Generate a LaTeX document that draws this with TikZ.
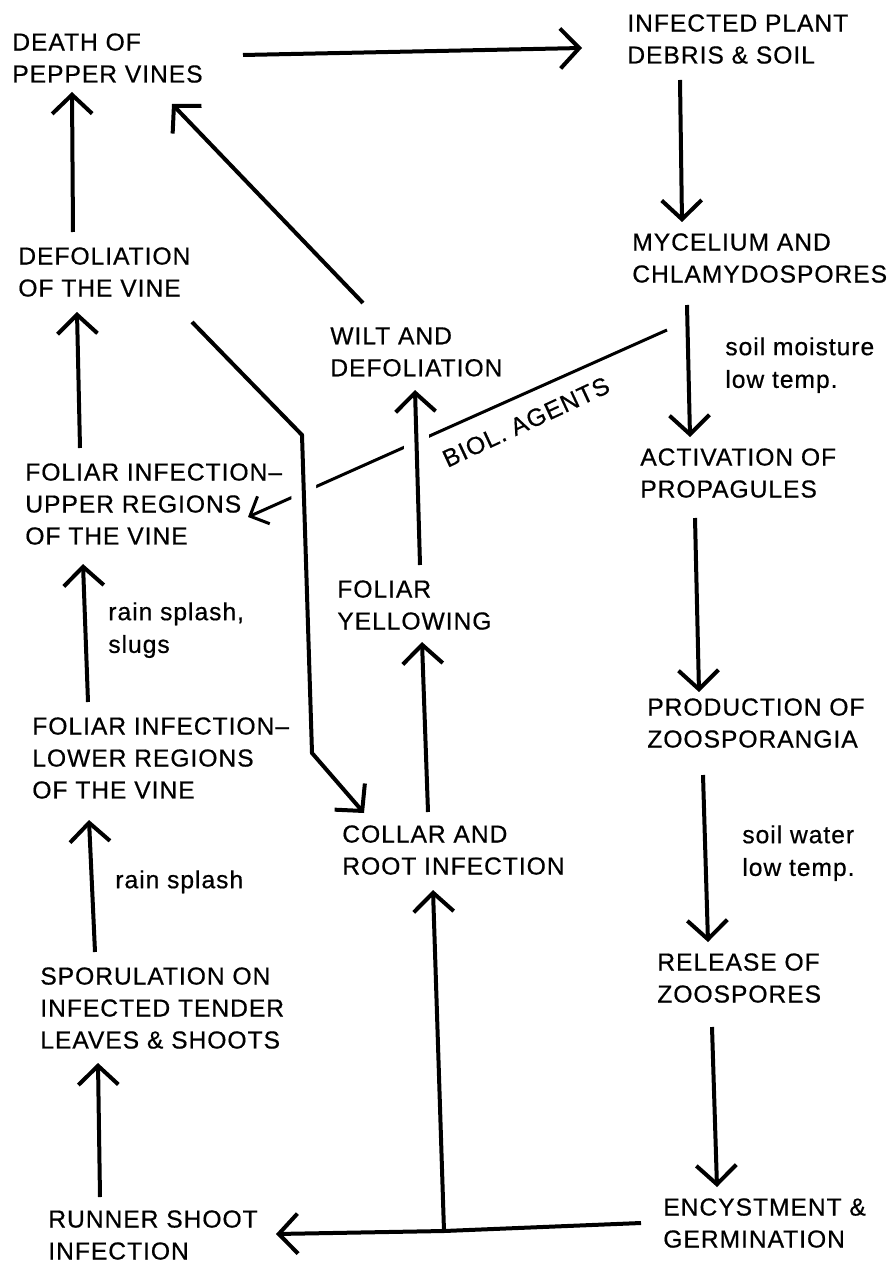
\documentclass[tikz,border=0pt]{standalone}
\usepackage{fontspec}
\setmainfont{Liberation Sans}
\newfontfamily\labfont{Liberation Sans}[LetterSpace=4,FakeBold=0.6]
\usetikzlibrary{arrows.meta,backgrounds}
\begin{document}
\begin{tikzpicture}[x=0.02cm,y=-0.02cm,
  lab/.style={anchor=north west,inner sep=0pt,align=left,font=\labfont\fontsize{14}{18.2}\selectfont},
  lab2/.style={anchor=north west,inner sep=0pt,align=left,font=\labfont\fontsize{14}{18.6}\selectfont},
  arr/.style={line width=0.08cm,-{Straight Barb[length=0.38cm,width=0.8cm]}},
  thinarr/.style={line width=0.06cm,-{Straight Barb[length=0.3cm,width=0.6cm]}},
  halo/.style={preaction={draw=white,line width=0.5cm,arrows=-}}]
\useasboundingbox (0,0) rectangle (890,1270);
\node[lab] (death) at (12,33) {DEATH OF\\PEPPER VINES};
\node[lab] (debris) at (627,14) {INFECTED PLANT\\DEBRIS \& SOIL};
\node[lab] (myc) at (632,233) {MYCELIUM AND\\CHLAMYDOSPORES};
\node[lab] (defv) at (18,247) {DEFOLIATION\\OF THE VINE};
\node[lab] (wilt) at (330,327) {WILT AND\\DEFOLIATION};
\node[lab2] (moist) at (725,337) {soil moisture\\low temp.};
\node[lab] (act) at (640,448) {ACTIVATION OF\\PROPAGULES};
\node[lab] (upper) at (25,463) {FOLIAR INFECTION–\\UPPER REGIONS\\OF THE VINE};
\node[lab] (yell) at (337,580) {FOLIAR\\YELLOWING};
\node[lab2] (splash1) at (108,602) {rain splash,\\slugs};
\node[lab] (prod) at (647,698) {PRODUCTION OF\\ZOOSPORANGIA};
\node[lab] (lower) at (32,717) {FOLIAR INFECTION–\\LOWER REGIONS\\OF THE VINE};
\node[lab] (collar) at (342,825) {COLLAR AND\\ROOT INFECTION};
\node[lab2] (splash2) at (115,870) {rain splash};
\node[lab2] (water) at (742,825) {soil water\\low temp.};
\node[lab] (spor) at (40,967) {SPORULATION ON\\INFECTED TENDER\\LEAVES \& SHOOTS};
\node[lab] (rel) at (657,953) {RELEASE OF\\ZOOSPORES};
\node[lab] (runner) at (48,1210) {RUNNER SHOOT\\INFECTION};
\node[lab] (ency) at (663,1198) {ENCYSTMENT \&\\GERMINATION};
\node[lab,anchor=center,rotate=25] (biol) at (526,422) {BIOL. AGENTS};
\begin{pgfonlayer}{background}
\draw[arr] ([shift={(231,22)}]death.north west) -- ([shift={(-45,34)}]debris.north west);
\draw[arr] ([shift={(53,66)}]debris.north west) -- ([shift={(50,-11)}]myc.north west);
\draw[arr] ([shift={(55,-15)}]defv.north west) -- ([shift={(60,59)}]death.north west);
\draw[arr] ([shift={(33,-24)}]wilt.north west) -- ([shift={(160,71)}]death.north west);
\draw[arr] ([shift={(55,72)}]myc.north west) -- ([shift={(50,-11)}]act.north west);
\draw[arr] ([shift={(55,-15)}]upper.north west) -- ([shift={(59,65)}]defv.north west);
\draw[thinarr] ([shift={(35,97)}]myc.north west) -- ([shift={(223,54)}]upper.north west);
\draw[arr,halo] ([shift={(174,75)}]defv.north west) -- (302,435) -- (312,753) -- ([shift={(22,-12)}]collar.north west);
\draw[arr,halo] ([shift={(83,-15)}]yell.north west) -- ([shift={(85,63)}]wilt.north west);
\draw[arr] ([shift={(86,-13)}]collar.north west) -- ([shift={(85,62)}]yell.north west);
\draw[arr] ([shift={(55,70)}]act.north west) -- ([shift={(52,-6)}]prod.north west);
\draw[arr] ([shift={(56,-15)}]lower.north west) -- ([shift={(58,101)}]upper.north west);
\draw[arr] ([shift={(56,77)}]prod.north west) -- ([shift={(51,-11)}]rel.north west);
\draw[arr] ([shift={(55,-15)}]spor.north west) -- ([shift={(57,103)}]lower.north west);
\draw[arr] ([shift={(55,74)}]rel.north west) -- ([shift={(54,-11)}]ency.north west);
\draw[arr] ([shift={(52,-13)}]runner.north west) -- ([shift={(58,96)}]spor.north west);
\coordinate (j) at (444,1231);
\draw[arr] ([shift={(-22,25)}]ency.north west) -- (j) -- ([shift={(228,24)}]runner.north west);
\draw[arr] (j) -- ([shift={(91,65)}]collar.north west);
\end{pgfonlayer}
\end{tikzpicture}
\end{document}
